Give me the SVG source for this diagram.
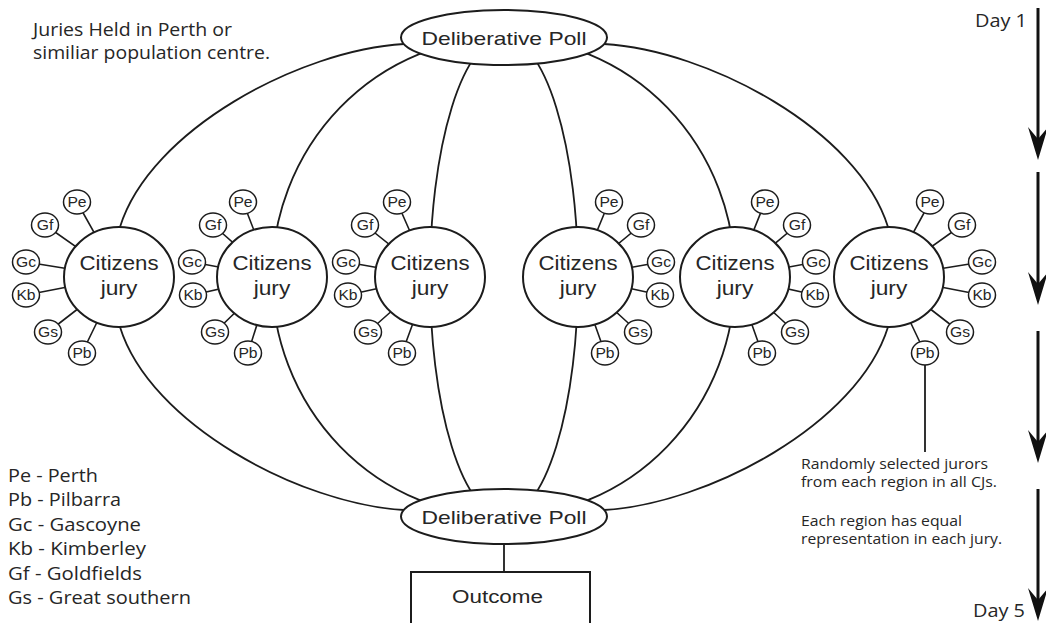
<svg xmlns="http://www.w3.org/2000/svg" width="1046" height="623" viewBox="0 0 1046 623">
<defs>
<style>
.ln{fill:none;stroke:#1c1c1c;stroke-width:1.8}
.sp{stroke:#1c1c1c;stroke-width:1.6}
.ar{fill:none;stroke:#111;stroke-width:3}
.node{fill:#fff;stroke:#1c1c1c;stroke-width:2}
.sat{fill:#fff;stroke:#1c1c1c;stroke-width:1.5}
.h{font-family:"Liberation Sans",Arial,sans-serif;fill:#262626}
.m{font-family:"Open Sans","Noto Sans",sans-serif;fill:#262626}
.st{font-family:"Liberation Sans",Arial,sans-serif;fill:#262626;font-size:14px}
</style>
<marker id="ah" viewBox="-34 -11 35 22" refX="-19" refY="0" markerWidth="35" markerHeight="22" markerUnits="userSpaceOnUse" orient="auto">
<path d="M0,0 L-33,-10 L-21,0 L-33,10 Z" fill="#111"/>
</marker>
</defs>
<rect width="1046" height="623" fill="#fff"/>

<g id="connectors">
<path class="ln" d="M404,44 C300,50 150,130 120,227"/>
<path class="ln" d="M120,327 C150,424 300,504 404,510"/>
<path class="ln" d="M604,44 C708,50 858,130 888,227"/>
<path class="ln" d="M888,327 C858,424 708,504 604,510"/>
<path class="ln" d="M504,37.5 A232,239.5 0 0 0 504,516.5"/>
<path class="ln" d="M504,37.5 A74,239.5 0 0 0 504,516.5"/>
<path class="ln" d="M504,37.5 A74,239.5 0 0 1 504,516.5"/>
<path class="ln" d="M504,37.5 A231,239.5 0 0 1 504,516.5"/>
<path class="ln" d="M504,544 V572"/>
<path class="ln" d="M925,365 V452"/>
<g id="spokes">
<path class="sp" d="M77,202 L119,277 M45,225 L119,277 M26,262 L119,277 M26,295 L119,277 M48,332 L119,277 M82,353 L119,277"/>
<path class="sp" d="M243,202 L272,277 M213,225 L272,277 M192,262 L272,277 M193,295 L272,277 M215,332 L272,277 M248,353 L272,277"/>
<path class="sp" d="M397,202 L430,277 M365,225 L430,277 M346,262 L430,277 M348,295 L430,277 M368,332 L430,277 M402,353 L430,277"/>
<path class="sp" d="M609,202 L578,277 M641,225 L578,277 M661,262 L578,277 M660,295 L578,277 M638,332 L578,277 M605,353 L578,277"/>
<path class="sp" d="M765,202 L735,277 M797,225 L735,277 M816,262 L735,277 M815,295 L735,277 M795,332 L735,277 M762,353 L735,277"/>
<path class="sp" d="M930,202 L889,277 M962,225 L889,277 M982,262 L889,277 M982,295 L889,277 M960,332 L889,277 M925,353 L889,277"/>
</g>
</g>

<g id="dp-top">
<ellipse class="node" cx="504" cy="37.5" rx="103" ry="27.5"/>
<text class="h" x="421.5" y="45" font-size="18.5" textLength="165" lengthAdjust="spacingAndGlyphs">Deliberative Poll</text>
</g>
<g id="dp-bottom">
<ellipse class="node" cx="504" cy="516.5" rx="103" ry="27.5"/>
<text class="h" x="421.5" y="524" font-size="18.5" textLength="165" lengthAdjust="spacingAndGlyphs">Deliberative Poll</text>
</g>
<g id="outcome">
<rect class="node" x="411" y="572" width="179" height="70"/>
<text class="h" x="452" y="603" font-size="18" textLength="91" lengthAdjust="spacingAndGlyphs">Outcome</text>
</g>

<g id="jury1">
<ellipse class="node" cx="119" cy="277" rx="55" ry="50"/>
<text class="h" x="79.5" y="270" font-size="19.5" textLength="79" lengthAdjust="spacingAndGlyphs">Citizens</text>
<text class="h" x="100.7" y="295" font-size="19.5" textLength="36.6" lengthAdjust="spacingAndGlyphs">jury</text>
</g>
<g id="jury2">
<ellipse class="node" cx="272" cy="277" rx="55" ry="50"/>
<text class="h" x="232.5" y="270" font-size="19.5" textLength="79" lengthAdjust="spacingAndGlyphs">Citizens</text>
<text class="h" x="253.7" y="295" font-size="19.5" textLength="36.6" lengthAdjust="spacingAndGlyphs">jury</text>
</g>
<g id="jury3">
<ellipse class="node" cx="430" cy="277" rx="55" ry="50"/>
<text class="h" x="390.5" y="270" font-size="19.5" textLength="79" lengthAdjust="spacingAndGlyphs">Citizens</text>
<text class="h" x="411.7" y="295" font-size="19.5" textLength="36.6" lengthAdjust="spacingAndGlyphs">jury</text>
</g>
<g id="jury4">
<ellipse class="node" cx="578" cy="277" rx="55" ry="50"/>
<text class="h" x="538.5" y="270" font-size="19.5" textLength="79" lengthAdjust="spacingAndGlyphs">Citizens</text>
<text class="h" x="559.7" y="295" font-size="19.5" textLength="36.6" lengthAdjust="spacingAndGlyphs">jury</text>
</g>
<g id="jury5">
<ellipse class="node" cx="735" cy="277" rx="55" ry="50"/>
<text class="h" x="695.5" y="270" font-size="19.5" textLength="79" lengthAdjust="spacingAndGlyphs">Citizens</text>
<text class="h" x="716.7" y="295" font-size="19.5" textLength="36.6" lengthAdjust="spacingAndGlyphs">jury</text>
</g>
<g id="jury6">
<ellipse class="node" cx="889" cy="277" rx="55" ry="50"/>
<text class="h" x="849.5" y="270" font-size="19.5" textLength="79" lengthAdjust="spacingAndGlyphs">Citizens</text>
<text class="h" x="870.7" y="295" font-size="19.5" textLength="36.6" lengthAdjust="spacingAndGlyphs">jury</text>
</g>

<g id="j1-pe"><ellipse class="sat" cx="77" cy="202" rx="13.5" ry="12"/><text class="st" x="67.4" y="207" textLength="19.2" lengthAdjust="spacingAndGlyphs">Pe</text></g>
<g id="j1-gf"><ellipse class="sat" cx="45" cy="225" rx="13.5" ry="12"/><text class="st" x="36.7" y="230" textLength="16.6" lengthAdjust="spacingAndGlyphs">Gf</text></g>
<g id="j1-gc"><ellipse class="sat" cx="26" cy="262" rx="13.5" ry="12"/><text class="st" x="16" y="267" textLength="20" lengthAdjust="spacingAndGlyphs">Gc</text></g>
<g id="j1-kb"><ellipse class="sat" cx="26" cy="295" rx="13.5" ry="12"/><text class="st" x="16.4" y="300" textLength="19.2" lengthAdjust="spacingAndGlyphs">Kb</text></g>
<g id="j1-gs"><ellipse class="sat" cx="48" cy="332" rx="13.5" ry="12"/><text class="st" x="38" y="337" textLength="20" lengthAdjust="spacingAndGlyphs">Gs</text></g>
<g id="j1-pb"><ellipse class="sat" cx="82" cy="353" rx="13.5" ry="12"/><text class="st" x="72.4" y="358" textLength="19.2" lengthAdjust="spacingAndGlyphs">Pb</text></g>

<g id="j2-pe"><ellipse class="sat" cx="243" cy="202" rx="13.5" ry="12"/><text class="st" x="233.4" y="207" textLength="19.2" lengthAdjust="spacingAndGlyphs">Pe</text></g>
<g id="j2-gf"><ellipse class="sat" cx="213" cy="225" rx="13.5" ry="12"/><text class="st" x="204.7" y="230" textLength="16.6" lengthAdjust="spacingAndGlyphs">Gf</text></g>
<g id="j2-gc"><ellipse class="sat" cx="192" cy="262" rx="13.5" ry="12"/><text class="st" x="182" y="267" textLength="20" lengthAdjust="spacingAndGlyphs">Gc</text></g>
<g id="j2-kb"><ellipse class="sat" cx="193" cy="295" rx="13.5" ry="12"/><text class="st" x="183.4" y="300" textLength="19.2" lengthAdjust="spacingAndGlyphs">Kb</text></g>
<g id="j2-gs"><ellipse class="sat" cx="215" cy="332" rx="13.5" ry="12"/><text class="st" x="205" y="337" textLength="20" lengthAdjust="spacingAndGlyphs">Gs</text></g>
<g id="j2-pb"><ellipse class="sat" cx="248" cy="353" rx="13.5" ry="12"/><text class="st" x="238.4" y="358" textLength="19.2" lengthAdjust="spacingAndGlyphs">Pb</text></g>

<g id="j3-pe"><ellipse class="sat" cx="397" cy="202" rx="13.5" ry="12"/><text class="st" x="387.4" y="207" textLength="19.2" lengthAdjust="spacingAndGlyphs">Pe</text></g>
<g id="j3-gf"><ellipse class="sat" cx="365" cy="225" rx="13.5" ry="12"/><text class="st" x="356.7" y="230" textLength="16.6" lengthAdjust="spacingAndGlyphs">Gf</text></g>
<g id="j3-gc"><ellipse class="sat" cx="346" cy="262" rx="13.5" ry="12"/><text class="st" x="336" y="267" textLength="20" lengthAdjust="spacingAndGlyphs">Gc</text></g>
<g id="j3-kb"><ellipse class="sat" cx="348" cy="295" rx="13.5" ry="12"/><text class="st" x="338.4" y="300" textLength="19.2" lengthAdjust="spacingAndGlyphs">Kb</text></g>
<g id="j3-gs"><ellipse class="sat" cx="368" cy="332" rx="13.5" ry="12"/><text class="st" x="358" y="337" textLength="20" lengthAdjust="spacingAndGlyphs">Gs</text></g>
<g id="j3-pb"><ellipse class="sat" cx="402" cy="353" rx="13.5" ry="12"/><text class="st" x="392.4" y="358" textLength="19.2" lengthAdjust="spacingAndGlyphs">Pb</text></g>

<g id="j4-pe"><ellipse class="sat" cx="609" cy="202" rx="13.5" ry="12"/><text class="st" x="599.4" y="207" textLength="19.2" lengthAdjust="spacingAndGlyphs">Pe</text></g>
<g id="j4-gf"><ellipse class="sat" cx="641" cy="225" rx="13.5" ry="12"/><text class="st" x="632.7" y="230" textLength="16.6" lengthAdjust="spacingAndGlyphs">Gf</text></g>
<g id="j4-gc"><ellipse class="sat" cx="661" cy="262" rx="13.5" ry="12"/><text class="st" x="651" y="267" textLength="20" lengthAdjust="spacingAndGlyphs">Gc</text></g>
<g id="j4-kb"><ellipse class="sat" cx="660" cy="295" rx="13.5" ry="12"/><text class="st" x="650.4" y="300" textLength="19.2" lengthAdjust="spacingAndGlyphs">Kb</text></g>
<g id="j4-gs"><ellipse class="sat" cx="638" cy="332" rx="13.5" ry="12"/><text class="st" x="628" y="337" textLength="20" lengthAdjust="spacingAndGlyphs">Gs</text></g>
<g id="j4-pb"><ellipse class="sat" cx="605" cy="353" rx="13.5" ry="12"/><text class="st" x="595.4" y="358" textLength="19.2" lengthAdjust="spacingAndGlyphs">Pb</text></g>

<g id="j5-pe"><ellipse class="sat" cx="765" cy="202" rx="13.5" ry="12"/><text class="st" x="755.4" y="207" textLength="19.2" lengthAdjust="spacingAndGlyphs">Pe</text></g>
<g id="j5-gf"><ellipse class="sat" cx="797" cy="225" rx="13.5" ry="12"/><text class="st" x="788.7" y="230" textLength="16.6" lengthAdjust="spacingAndGlyphs">Gf</text></g>
<g id="j5-gc"><ellipse class="sat" cx="816" cy="262" rx="13.5" ry="12"/><text class="st" x="806" y="267" textLength="20" lengthAdjust="spacingAndGlyphs">Gc</text></g>
<g id="j5-kb"><ellipse class="sat" cx="815" cy="295" rx="13.5" ry="12"/><text class="st" x="805.4" y="300" textLength="19.2" lengthAdjust="spacingAndGlyphs">Kb</text></g>
<g id="j5-gs"><ellipse class="sat" cx="795" cy="332" rx="13.5" ry="12"/><text class="st" x="785" y="337" textLength="20" lengthAdjust="spacingAndGlyphs">Gs</text></g>
<g id="j5-pb"><ellipse class="sat" cx="762" cy="353" rx="13.5" ry="12"/><text class="st" x="752.4" y="358" textLength="19.2" lengthAdjust="spacingAndGlyphs">Pb</text></g>

<g id="j6-pe"><ellipse class="sat" cx="930" cy="202" rx="13.5" ry="12"/><text class="st" x="920.4" y="207" textLength="19.2" lengthAdjust="spacingAndGlyphs">Pe</text></g>
<g id="j6-gf"><ellipse class="sat" cx="962" cy="225" rx="13.5" ry="12"/><text class="st" x="953.7" y="230" textLength="16.6" lengthAdjust="spacingAndGlyphs">Gf</text></g>
<g id="j6-gc"><ellipse class="sat" cx="982" cy="262" rx="13.5" ry="12"/><text class="st" x="972" y="267" textLength="20" lengthAdjust="spacingAndGlyphs">Gc</text></g>
<g id="j6-kb"><ellipse class="sat" cx="982" cy="295" rx="13.5" ry="12"/><text class="st" x="972.4" y="300" textLength="19.2" lengthAdjust="spacingAndGlyphs">Kb</text></g>
<g id="j6-gs"><ellipse class="sat" cx="960" cy="332" rx="13.5" ry="12"/><text class="st" x="950" y="337" textLength="20" lengthAdjust="spacingAndGlyphs">Gs</text></g>
<g id="j6-pb"><ellipse class="sat" cx="925" cy="353" rx="13.5" ry="12"/><text class="st" x="915.4" y="358" textLength="19.2" lengthAdjust="spacingAndGlyphs">Pb</text></g>

<g id="timeline">
<path class="ar" d="M1038,8 V141" marker-end="url(#ah)"/>
<path class="ar" d="M1038,172 V286" marker-end="url(#ah)"/>
<path class="ar" d="M1038,331 V444" marker-end="url(#ah)"/>
<path class="ar" d="M1038,489 V602" marker-end="url(#ah)"/>
<text class="m" x="975" y="27" font-size="18.5" textLength="52" lengthAdjust="spacingAndGlyphs">Day 1</text>
<text class="m" x="973" y="617" font-size="18.5" textLength="52" lengthAdjust="spacingAndGlyphs">Day 5</text>
</g>

<g id="notes">
<text class="m" x="33" y="36" font-size="18" textLength="199" lengthAdjust="spacingAndGlyphs">Juries Held in Perth or</text>
<text class="m" x="33" y="59" font-size="18" textLength="237" lengthAdjust="spacingAndGlyphs">similiar population centre.</text>
<text class="m" x="801" y="469" font-size="14" textLength="187" lengthAdjust="spacingAndGlyphs">Randomly selected jurors</text>
<text class="m" x="801" y="487" font-size="14" textLength="196" lengthAdjust="spacingAndGlyphs">from each region in all CJs.</text>
<text class="m" x="801" y="526" font-size="14" textLength="161" lengthAdjust="spacingAndGlyphs">Each region has equal</text>
<text class="m" x="801" y="544" font-size="14" textLength="201" lengthAdjust="spacingAndGlyphs">representation in each jury.</text>
</g>

<g id="legend">
<text class="m" x="8" y="482" font-size="17.5" textLength="90" lengthAdjust="spacingAndGlyphs">Pe - Perth</text>
<text class="m" x="8" y="506" font-size="17.5" textLength="113" lengthAdjust="spacingAndGlyphs">Pb - Pilbarra</text>
<text class="m" x="8" y="531" font-size="17.5" textLength="133" lengthAdjust="spacingAndGlyphs">Gc - Gascoyne</text>
<text class="m" x="8" y="555" font-size="17.5" textLength="138" lengthAdjust="spacingAndGlyphs">Kb - Kimberley</text>
<text class="m" x="8" y="580" font-size="17.5" textLength="134" lengthAdjust="spacingAndGlyphs">Gf - Goldfields</text>
<text class="m" x="8" y="604" font-size="17.5" textLength="183" lengthAdjust="spacingAndGlyphs">Gs - Great southern</text>
</g>
</svg>
